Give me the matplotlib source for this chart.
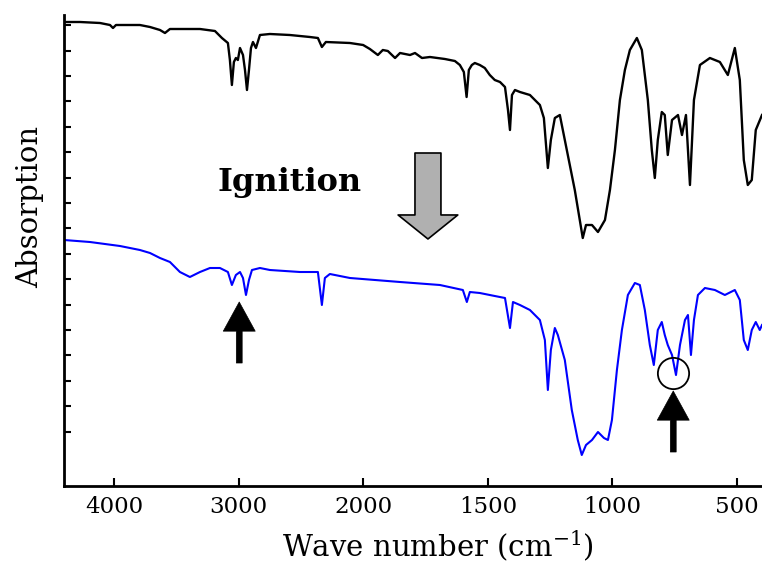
import numpy as np
import matplotlib
matplotlib.use("Agg")
import matplotlib.pyplot as plt
from matplotlib.patches import FancyArrowPatch, ArrowStyle

plt.rcParams['font.family'] = ['DejaVu Serif']
plt.rcParams['mathtext.fontset'] = 'dejavuserif'

# ---- data (wavenumber cm-1, absorption a.u.) ----
before_wn = [4400, 4272, 4111, 4031, 4007, 3983, 3791, 3710, 3630, 3590, 3550, 3430, 3309,
             3189, 3133, 3085, 3069, 3053, 3037, 3021, 3005, 2988, 2964, 2948, 2932, 2916,
             2900, 2884, 2860, 2828, 2748, 2588, 2427, 2363, 2331, 2299, 2106, 2000, 1973,
             1941, 1921, 1901, 1872, 1852, 1812, 1792, 1764, 1732, 1672, 1632, 1612, 1596,
             1585, 1576, 1564, 1552, 1532, 1512, 1492, 1472, 1451, 1431, 1419, 1411, 1403,
             1391, 1371, 1331, 1291, 1275, 1259, 1247, 1231, 1211, 1191, 1171, 1151, 1131,
             1119, 1106, 1082, 1058, 1030, 1010, 990, 970, 950, 930, 902, 882, 858, 842,
             830, 818, 802, 790, 778, 761, 737, 721, 705, 689, 673, 649, 609, 569, 537,
             509, 489, 473, 457, 441, 425, 400]
before_ab = [4.64, 4.64, 4.63, 4.61, 4.58, 4.61, 4.61, 4.59, 4.56, 4.53, 4.57, 4.57, 4.57,
             4.55, 4.48, 4.43, 4.26, 4.01, 4.24, 4.28, 4.26, 4.38, 4.31, 4.16, 3.96, 4.16,
             4.38, 4.44, 4.38, 4.51, 4.52, 4.51, 4.49, 4.48, 4.39, 4.44, 4.43, 4.41, 4.37,
             4.31, 4.36, 4.35, 4.28, 4.33, 4.31, 4.33, 4.28, 4.29, 4.27, 4.25, 4.21, 4.14,
             3.89, 4.16, 4.21, 4.23, 4.21, 4.18, 4.11, 4.06, 4.04, 3.99, 3.76, 3.56, 3.91,
             3.96, 3.94, 3.91, 3.81, 3.68, 3.18, 3.46, 3.68, 3.71, 3.46, 3.21, 2.96, 2.66,
             2.48, 2.61, 2.61, 2.54, 2.66, 2.96, 3.36, 3.86, 4.16, 4.36, 4.48, 4.36, 3.86,
             3.36, 3.08, 3.46, 3.74, 3.71, 3.31, 3.66, 3.71, 3.51, 3.71, 3.01, 3.86, 4.21,
             4.28, 4.24, 4.11, 4.38, 4.06, 3.26, 3.01, 3.06, 3.56, 3.71]

after_wn = [4400, 4192, 3951, 3791, 3710, 3630, 3550, 3470, 3390, 3309, 3229, 3149, 3085,
            3053, 3021, 2988, 2964, 2940, 2916, 2892, 2828, 2748, 2507, 2363, 2331, 2307,
            2267, 2106, 1852, 1692, 1600, 1584, 1572, 1532, 1472, 1431, 1411, 1399, 1371,
            1331, 1291, 1271, 1259, 1247, 1231, 1219, 1191, 1163, 1139, 1123, 1106, 1082,
            1058, 1034, 1018, 1002, 982, 962, 938, 910, 890, 870, 850, 834, 818, 802, 790,
            778, 761, 745, 729, 709, 697, 685, 673, 657, 629, 589, 549, 509, 489, 473, 457,
            441, 425, 409, 400]
after_ab = [2.46, 2.44, 2.40, 2.36, 2.33, 2.28, 2.24, 2.14, 2.09, 2.14, 2.18, 2.18, 2.14,
            2.01, 2.11, 2.14, 2.08, 1.91, 2.06, 2.16, 2.18, 2.16, 2.14, 2.14, 1.81, 2.08,
            2.12, 2.08, 2.04, 2.01, 1.96, 1.84, 1.94, 1.93, 1.90, 1.88, 1.58, 1.84, 1.81,
            1.76, 1.66, 1.46, 0.96, 1.36, 1.58, 1.51, 1.26, 0.76, 0.46, 0.31, 0.41, 0.46,
            0.54, 0.48, 0.46, 0.66, 1.16, 1.56, 1.91, 2.03, 2.01, 1.76, 1.41, 1.21, 1.56,
            1.64, 1.51, 1.41, 1.31, 1.11, 1.41, 1.66, 1.71, 1.31, 1.66, 1.91, 1.98, 1.96,
            1.91, 1.96, 1.86, 1.46, 1.36, 1.56, 1.64, 1.56, 1.61]

xtick_vals = [4000, 3000, 2000, 1500, 1000, 500]
ann_label = "Ignition"
xlabel = "Wave number (cm$^{-1}$)"
ylabel = "Absorption"

# marked bands
mark_wn = [2994, 756]
mark_tip = [1.84, 0.95]
mark_tail = [1.23, 0.34]
circle_wn, circle_ab = 756, 1.13

# ---- piecewise scale: region above 2000 cm-1 compressed by 2 ----
def fwd(x):
    x = np.asarray(x, dtype=float)
    return np.where(x > 2000, 2000 + (x - 2000) / 2.0, x)

def inv(y):
    y = np.asarray(y, dtype=float)
    return np.where(y > 2000, 2000 + (y - 2000) * 2.0, y)

fig = plt.figure(figsize=(7.62, 5.65), dpi=100)
ax = fig.add_axes([64 / 762, (565 - 486) / 565, (762 - 64) / 762, (486 - 15) / 565])
ax.set_xscale('function', functions=(fwd, inv))
ax.set_xlim(4400, 400)
ax.set_ylim(0, 4.71)

ax.plot(before_wn, before_ab, color='black', lw=1.7, solid_joinstyle='round')
ax.plot(after_wn, after_ab, color='#0000ff', lw=1.5, solid_joinstyle='round')

for s in ['top', 'right']:
    ax.spines[s].set_visible(False)
for s in ['left', 'bottom']:
    ax.spines[s].set_linewidth(2.0)

ax.set_xticks(xtick_vals)
ax.set_xticklabels([str(v) for v in xtick_vals])
ax.xaxis.set_minor_locator(matplotlib.ticker.NullLocator())
ax.set_yticks(0.544 + 0.254 * np.arange(17))
ax.set_yticklabels([])
ax.tick_params(axis='x', direction='in', length=5.8, width=1.5, labelsize=16.5, pad=7)
ax.tick_params(axis='y', direction='in', length=4.8, width=1.5)

fig.text(438 / 762, 1 - 546 / 565, xlabel, ha='center', va='center', fontsize=21)
fig.text(30 / 762, 1 - 207 / 565, ylabel, ha='center', va='center', rotation=90, fontsize=21)

ax.text(2591, 3.03, ann_label, ha='center', va='center', fontsize=23, fontweight='bold')

# gray arrow (ignition)
gray = FancyArrowPatch((1740, 3.33), (1740, 2.47), shrinkA=0, shrinkB=0,
                       arrowstyle=ArrowStyle.Simple(head_length=17.3, head_width=43, tail_width=18.7),
                       mutation_scale=1, facecolor='#b0b0b0', edgecolor='black', lw=1.2)
ax.add_patch(gray)

for wn, tip, tail in zip(mark_wn, mark_tip, mark_tail):
    ar = FancyArrowPatch((wn, tail), (wn, tip), shrinkA=0, shrinkB=0,
                         arrowstyle=ArrowStyle.Simple(head_length=21, head_width=23, tail_width=4.2),
                         mutation_scale=1, facecolor='black', edgecolor='black', lw=0.5)
    ax.add_patch(ar)

ax.plot([circle_wn], [circle_ab], 'o', ms=22.5, mfc='none', mec='black', mew=1.3)

fig.savefig('out.png', dpi=100)
